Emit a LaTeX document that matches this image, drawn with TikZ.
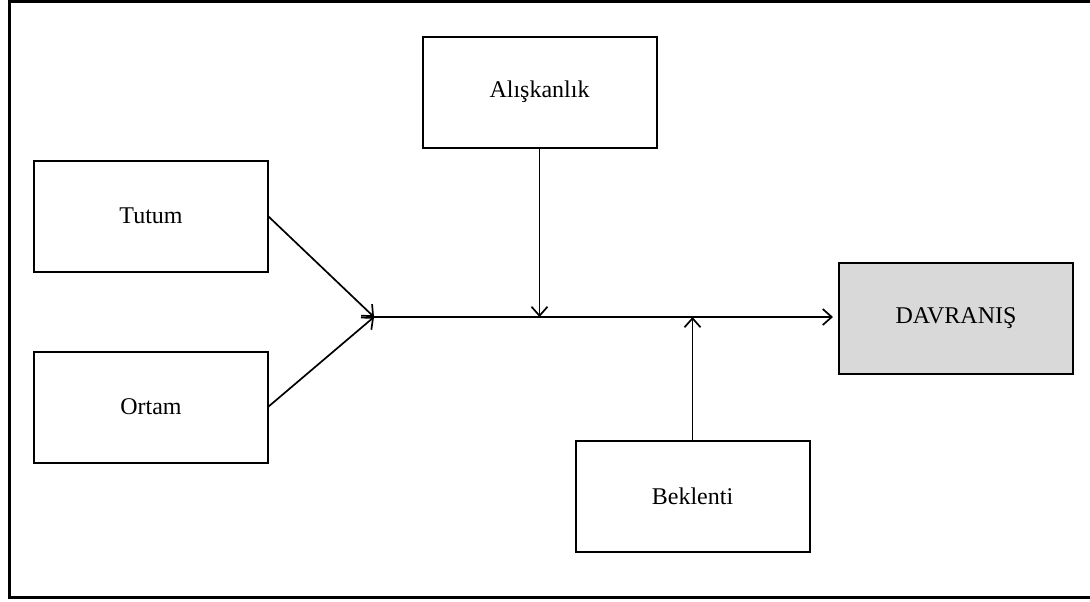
\documentclass[tikz,border=0pt]{standalone}
\usepackage{fontspec}
\setmainfont{Liberation Serif}
\usepackage{xcolor}
\usetikzlibrary{arrows.meta}
\definecolor{boxgray}{HTML}{D9D9D9}

\begin{document}
\begin{tikzpicture}[x=0.5pt,y=-0.5pt,
        kutu/.style={draw,line width=1pt,minimum width=117pt,minimum height=55.5pt,
            inner sep=0pt,outer sep=0pt,font=\fontsize{12}{14}\selectfont},
        ok/.style={line width=0.85pt,-{Straight Barb[length=4.5pt,width=8pt,line width=0.85pt]}}]
        \useasboundingbox (0,0) rectangle (1090,601);
        \draw[line width=1.8pt] (1090,1.5) -- (9.5,1.5) -- (9.5,597.5) -- (1090,597.5);
        \node[kutu] (tutum) at (151,216) {Tutum};
        \node[kutu] (ortam) at (151,407) {Ortam};
        \node[kutu] (alis) at (539.5,92) {Alışkanlık};
        \node[kutu] (bek) at (692.5,496) {Beklenti};
        \node[kutu,fill=boxgray] (dav) at (956,318) {DAVRANIŞ};
        \coordinate (j) at (374,317);
        \draw[ok] (tutum.east) -- (j);
        \draw[ok] (ortam.east) -- (j);
        \draw[ok,shorten >=3pt] (j) -- (j -| dav.west);
        \draw[ok] (alis.south) -- (alis.south |- j);
        \draw[ok] (bek.north) -- (bek.north |- j);
    \end{tikzpicture}
\end{document}
